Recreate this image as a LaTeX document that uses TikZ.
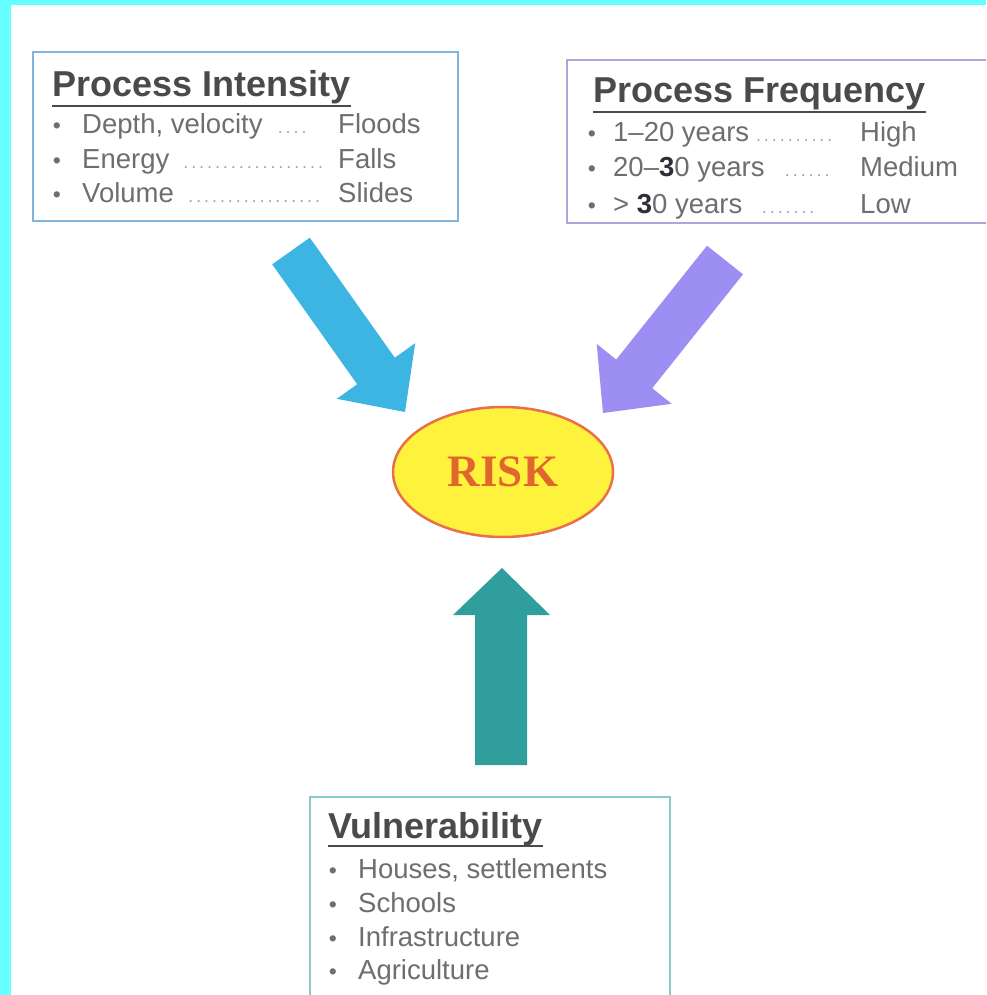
\documentclass[tikz,border=0pt]{standalone}
\usepackage{fontspec}
\setmainfont{Liberation Sans}
\newfontfamily\riskfont{Liberation Serif}
\usetikzlibrary{shapes.geometric}
\definecolor{cyanbg}{HTML}{66FFFF}
\definecolor{arrowblue}{HTML}{3DB5E2}
\definecolor{arrowpurple}{HTML}{9C8EF2}
\definecolor{arrowteal}{HTML}{2F9E9C}
\definecolor{riskfill}{HTML}{FFF23C}
\definecolor{riskedge}{HTML}{E8704A}
\definecolor{risktext}{HTML}{E0662E}
\definecolor{boxone}{HTML}{80B4DC}
\definecolor{boxtwo}{HTML}{ADA6DA}
\definecolor{boxthree}{HTML}{8CCACA}
\definecolor{titlegray}{HTML}{4A4A4A}
\definecolor{bodygray}{HTML}{6E6E6E}
\definecolor{leadergray}{HTML}{A8A8A8}
\definecolor{smudge}{HTML}{2E2E3A}
\tikzset{
  ttl/.style={anchor=base west, inner sep=0pt, font=\fontsize{36}{40}\selectfont\bfseries, text=titlegray},
  itm/.style={anchor=base west, inner sep=0pt, font=\fontsize{27.5}{30}\selectfont, text=bodygray},
  bul/.style={anchor=base, inner sep=0pt, font=\fontsize{23}{25}\selectfont, text=bodygray},
  ldr/.style={anchor=base west, inner sep=0pt, font=\fontsize{18}{20}\selectfont, text=leadergray},
  uline/.style={draw=titlegray, line width=2.2pt},
  frame/.style={line width=2pt},
}
\newcommand{\lead}[1]{\hbox to #1{\dotfill}}
\newcommand{\blot}{\textcolor{smudge}{\bfseries 3}}
\begin{document}
\begin{tikzpicture}[x=1pt,y=-1pt]
\useasboundingbox (0,0) rectangle (986,995);
\clip (0,0) rectangle (986,995);
\fill[white] (0,0) rectangle (986,995);
% cyan border
\fill[cyanbg] (0,0) rectangle (11,995);
\fill[cyanbg] (0,0) rectangle (986,5);

% Box 1: Process Intensity
\draw[frame, draw=boxone] (33,52) rectangle (458,221);
\node[ttl] (t1) at (52,97) {Process Intensity};
\draw[uline] ([yshift=-9pt]t1.base west) -- ([yshift=-9pt]t1.base east);
\node[bul] (b11) at (57,134) {•};
\node[itm] (i11) at (82,134) {Depth, velocity};
\node[ldr] (l11) at (276,134) {\lead{32pt}};
\node[itm] (r11) at (338,134) {Floods};
\node[bul] (b12) at (57,168) {•};
\node[itm] (i12) at (82,168) {Energy};
\node[ldr] (l12) at (180,168) {\lead{146pt}};
\node[itm] (r12) at (338,168) {Falls};
\node[bul] (b13) at (57,202) {•};
\node[itm] (i13) at (82,202) {Volume};
\node[ldr] (l13) at (185,202) {\lead{138pt}};
\node[itm] (r13) at (338,202) {Slides};

% Box 2: Process Frequency
\draw[frame, draw=boxtwo] (567,60) rectangle (992,223);
\node[ttl] (t2) at (593,103) {Process Frequency};
\draw[uline] ([yshift=-9pt]t2.base west) -- ([yshift=-9pt]t2.base east);
\node[bul] (b21) at (592,142) {•};
\node[itm] (i21) at (613,142) {1–20 years};
\node[ldr] (l21) at (753,142) {\lead{82pt}};
\node[itm] (r21) at (860,142) {High};
\node[bul] (b22) at (592,177) {•};
\node[itm] (i22) at (613,177) {20–\blot0 years};
\node[ldr] (l22) at (780,177) {\lead{54pt}};
\node[itm] (r22) at (860,177) {Medium};
\node[bul] (b23) at (592,213) {•};
\node[itm] (i23) at (613,213) {> \blot0 years};
\node[ldr] (l23) at (757,213) {\lead{62pt}};
\node[itm] (r23) at (860,213) {Low};

% Box 3: Vulnerability
\draw[frame, draw=boxthree] (310,797) rectangle (670,1000);
\node[ttl] (t3) at (328,838) {Vulnerability};
\draw[uline] ([yshift=-8pt]t3.base west) -- ([yshift=-8pt]t3.base east);
\node[bul] (b31) at (333,878) {•};
\node[itm] (i31) at (358,878) {Houses, settlements};
\node[bul] (b32) at (333,912) {•};
\node[itm] (i32) at (358,912) {Schools};
\node[bul] (b33) at (333,946) {•};
\node[itm] (i33) at (358,946) {Infrastructure};
\node[bul] (b34) at (333,979) {•};
\node[itm] (i34) at (358,979) {Agriculture};

% RISK ellipse
\node[ellipse, draw=riskedge, fill=riskfill, line width=2.5pt,
      minimum width=220pt, minimum height=130pt, inner sep=0pt,
      font=\riskfont\bfseries\fontsize{45}{50}\selectfont, text=risktext] (risk) at (503,472) {RISK};

% block arrows
\fill[arrowblue] (309.8,237.7) -- (394.8,357.7) -- (415.2,343.2) -- (405,412)
  -- (336.8,398.8) -- (357.2,384.3) -- (272.2,264.3) -- cycle;
\fill[arrowpurple] (743,274.3) -- (652.2,388.2) -- (671.7,403.8) -- (603,413)
  -- (596.7,344) -- (616.2,359.6) -- (707,245.7) -- cycle;
\fill[arrowteal] (475,765) -- (475,615) -- (453,615) -- (502,568)
  -- (550,615) -- (527,615) -- (527,765) -- cycle;
\end{tikzpicture}
\end{document}
